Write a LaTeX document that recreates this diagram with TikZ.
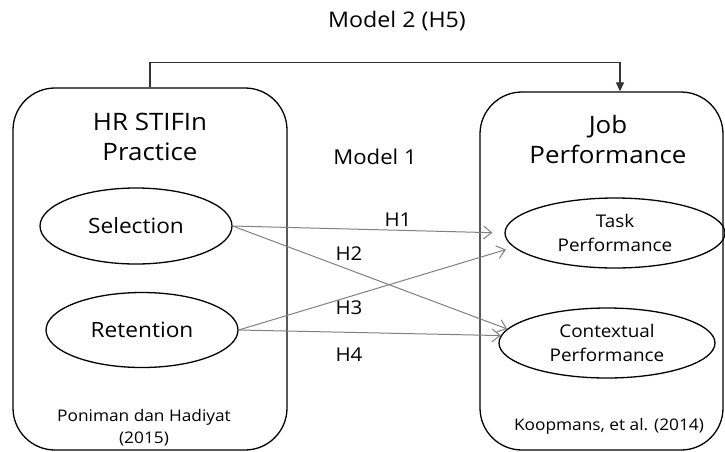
\documentclass[tikz,border=0pt]{standalone}
\usepackage{fontspec}
\setmainfont[FakeStretch=1.08]{Open Sans}
\usetikzlibrary{shapes.geometric,arrows.meta}
\begin{document}
\begin{tikzpicture}[x=1pt,y=-1pt,
  bigbox/.style={draw=black,line width=1.3pt,rounded corners=42pt,rectangle,inner sep=0pt},
  oval/.style={draw=black,line width=1.3pt,ellipse,inner sep=0pt,align=center},
  title/.style={align=center,inner sep=0pt,font=\fontsize{24}{30}\selectfont},
  lbl/.style={inner sep=0pt,font=\fontsize{19}{23}\selectfont},
  ref/.style={align=center,inner sep=0pt,font=\fontsize{16}{22}\selectfont},
  hyp/.style={draw=black!50,line width=1pt,-{Straight Barb[length=8pt,width=13pt]}},
  top/.style={draw=black!80,line width=1.2pt,-{Triangle[length=9pt,width=8pt]}}]
\useasboundingbox (0,0) rectangle (725,451);
% boxes
\node[bigbox,minimum width=274pt,minimum height=362pt] (lbox) at (150,269) {};
\node[bigbox,minimum width=243pt,minimum height=358pt] (rbox) at (601.5,271) {};
% titles
\node[title] (lt) at (150,137) {HR STIFIn\\Practice};
\node[title] (rt) at (608,139) {Job\\Performance};
% ellipses
\node[oval,minimum width=192pt,minimum height=76pt,font=\fontsize{21}{25}\selectfont] (sel) at (136,226) {Selection};
\node[oval,minimum width=192pt,minimum height=75pt,font=\fontsize{21}{25}\selectfont] (ret) at (142,330) {Retention};
\node[oval,minimum width=220pt,minimum height=70pt,font=\fontsize{17.5}{24}\selectfont] (task) at (615,233) {Task\\Performance};
\node[oval,minimum width=216pt,minimum height=70pt,font=\fontsize{17.5}{24}\selectfont] (ctx) at (607,343) {Contextual\\Performance};
% references
\node[ref] (lref) at (144,428) {Poniman dan Hadiyat\\(2015)};
\node[ref] (rref) at (609,426) {Koopmans, et al. (2014)};
% model labels
\node[inner sep=0pt,font=\fontsize{21.5}{26}\selectfont] (m2) at (397,21) {Model 2 (H5)};
\node[inner sep=0pt,font=\fontsize{20.5}{25}\selectfont] (m1) at (375,157) {Model 1};
\node[lbl] (h1) at (398,220) {H1};
\node[lbl] (h2) at (349,254) {H2};
\node[lbl] (h3) at (349,308) {H3};
\node[lbl] (h4) at (349,355) {H4};
% connectors
\draw[hyp,shorten >=12pt] (sel.east) -- (task.west);
\draw[hyp] (sel.east) -- (ctx.172);
\draw[hyp,shorten >=8pt] (ret.east) -- (task.188);
\draw[hyp] (ret.east) -- (ctx.176);
\draw[top] (lbox.north) -- ++(0,-25) -| ([xshift=18.5pt]rbox.north);
\end{tikzpicture}
\end{document}
